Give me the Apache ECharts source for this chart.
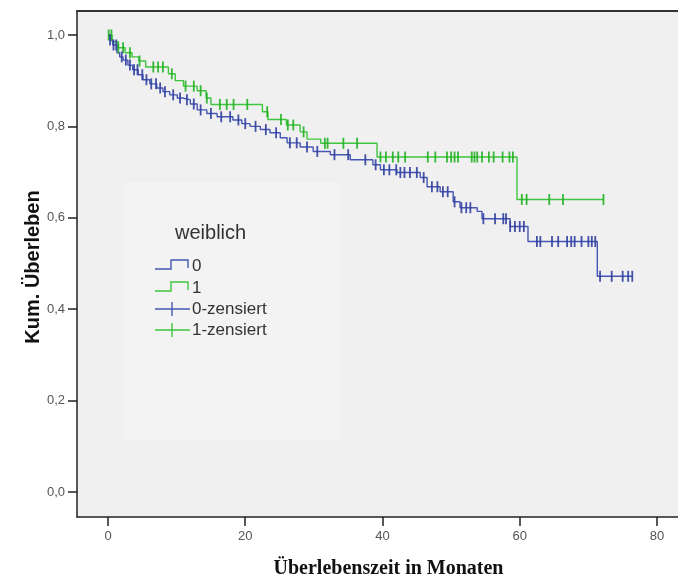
<!DOCTYPE html>
<html>
<head>
<meta charset="utf-8">
<script src="https://cdn.jsdelivr.net/npm/echarts@6/dist/echarts.min.js"></script>
<style>
  html, body { margin: 0; padding: 0; background: #ffffff; }
  #chart { width: 678px; height: 584px; }
</style>
</head>
<body>
<div id="chart"></div>
<script>
// Kaplan-Meier curves by group "weiblich" (0 / 1)
// Step times (months) and cumulative survival after each step
const blueTimes = [0, 0.3, 0.7, 1.3, 1.7, 2.2, 2.9, 3.6, 4.4, 5.1, 6.1, 7.1, 8.0, 9.0, 10.1, 10.9, 12.0, 13.0, 14.4, 15.9, 18.2, 19.5, 20.7, 22.2, 23.6, 25.1, 26.1, 28.0, 29.9, 32.4, 35.3, 38.6, 39.7, 42.1, 45.5, 46.5, 48.4, 50.3, 51.3, 53.8, 54.5, 58.6, 61.2, 71.3];
const blueSurv  = [1.0, 0.989, 0.978, 0.961, 0.952, 0.945, 0.934, 0.924, 0.913, 0.902, 0.893, 0.884, 0.876, 0.869, 0.862, 0.858, 0.849, 0.836, 0.828, 0.821, 0.814, 0.806, 0.800, 0.793, 0.786, 0.775, 0.764, 0.755, 0.745, 0.738, 0.727, 0.716, 0.705, 0.699, 0.688, 0.668, 0.657, 0.635, 0.622, 0.614, 0.598, 0.581, 0.548, 0.472];
const blueEnd = 76.4;

const greenTimes = [0, 0.6, 1.5, 2.5, 3.5, 4.5, 5.5, 8.8, 9.8, 11.0, 13.0, 14.3, 15.0, 22.5, 23.3, 26.0, 28.0, 29.0, 31.0, 39.2, 59.6];
const greenSurv  = [1.0, 0.985, 0.972, 0.961, 0.952, 0.943, 0.930, 0.915, 0.900, 0.888, 0.878, 0.862, 0.848, 0.832, 0.815, 0.803, 0.788, 0.772, 0.763, 0.733, 0.640];
const greenEnd = 72.2;

// Censoring times (months)
const blueCensor = [0.3, 0.8, 1.2, 2.0, 2.6, 3.2, 3.8, 4.3, 5.0, 5.6, 6.3, 7.0, 7.6, 8.3, 9.5, 10.5, 11.5, 12.5, 13.5, 15.0, 16.5, 17.8, 19.0, 20.0, 21.5, 23.0, 24.5, 26.5, 27.5, 29.0, 30.5, 33.0, 35.0, 37.5, 39.0, 40.2, 41.0, 42.0, 42.6, 43.2, 44.0, 45.0, 46.0, 47.2, 48.0, 48.8, 49.5, 50.5, 51.5, 52.2, 52.8, 54.7, 56.4, 57.6, 58.0, 58.6, 59.3, 60.0, 60.6, 62.5, 63.0, 64.7, 65.6, 66.9, 67.5, 68.0, 69.0, 70.0, 70.5, 71.0, 71.7, 73.4, 75.0, 75.8, 76.4];
const greenCensor = [0.1, 0.5, 1.5, 2.2, 3.2, 4.6, 6.6, 7.3, 8.0, 9.3, 11.3, 12.5, 13.5, 14.4, 16.3, 17.3, 18.3, 20.3, 23.2, 25.2, 26.2, 27.0, 28.5, 31.6, 32.0, 34.3, 36.3, 39.7, 40.5, 41.5, 42.3, 43.3, 46.6, 47.7, 49.4, 50.0, 50.5, 51.0, 53.0, 53.4, 53.8, 54.5, 55.5, 56.2, 57.5, 58.5, 59.0, 60.3, 61.0, 64.3, 66.3, 72.2];

// Axis tick values
const xTicks = [0, 20, 40, 60, 80];
const yTicks = [0, 0.2, 0.4, 0.6, 0.8, 1.0];

const groupLabels = ['0', '1', '0-zensiert', '1-zensiert'];
const legendTitle = 'weiblich';
const yTitle = 'Kum. Überleben';
const xTitle = 'Überlebenszeit in Monaten';

const BLUE = '#4656b4';
const BLUE_MARK = '#2f3f9e';
const GREEN = '#3ec53e';
const GREEN_MARK = '#22b022';
const SANS = '"Liberation Sans", Arial, sans-serif';

function stepData(times, surv, end) {
  const d = times.map((t, i) => [t, surv[i]]);
  d.push([end, surv[surv.length - 1]]);
  return d;
}
function survivalAt(times, surv, t) {
  let s = surv[0];
  for (let i = 0; i < times.length; i++) {
    if (times[i] <= t) s = surv[i]; else break;
  }
  return s;
}
function censorData(censor, times, surv) {
  return censor.map(t => [t, survivalAt(times, surv, t)]);
}

const chart = echarts.init(document.getElementById('chart'), null, { renderer: 'canvas' });
const fmt = v => v.toFixed(1).replace('.', ',');

// legend drawn as graphic elements
function stepIcon(y, color) {
  return { type: 'polyline', shape: { points: [[155, y + 4], [171, y + 4], [171, y - 5], [188, y - 5], [188, y + 3]] }, style: { stroke: color, lineWidth: 1.4, fill: null } };
}
function crossIcon(y, color) {
  return [
    { type: 'line', shape: { x1: 155, y1: y, x2: 190, y2: y }, style: { stroke: color, lineWidth: 1.4 } },
    { type: 'line', shape: { x1: 172, y1: y - 7, x2: 172, y2: y + 7 }, style: { stroke: color, lineWidth: 1.4 } }
  ];
}
function legendText(y, text) {
  return { type: 'text', x: 192, y: y, style: { text: text, font: '17px ' + SANS, fill: '#333', verticalAlign: 'middle' } };
}
const graphics = [
  { type: 'rect', shape: { x: 124, y: 182, width: 216, height: 258 }, style: { fill: '#f3f3f3' }, z: 0, silent: true },
  { type: 'text', x: 175, y: 233, style: { text: legendTitle, font: '20px ' + SANS, fill: '#333', verticalAlign: 'middle' } },
  stepIcon(265, BLUE), legendText(266, groupLabels[0]),
  stepIcon(287, GREEN), legendText(288, groupLabels[1]),
  ...crossIcon(309, BLUE), legendText(309, groupLabels[2]),
  ...crossIcon(330, GREEN), legendText(330, groupLabels[3]),
  // vertical axis title
  { type: 'text', x: 33, y: 267, rotation: Math.PI / 2,
    style: { text: yTitle, font: 'bold 20px ' + SANS, fill: '#111', align: 'center', verticalAlign: 'middle' } }
];

chart.setOption({
  animation: false,
  backgroundColor: '#ffffff',
  grid: { left: 77, right: 0, top: 11, bottom: 66, show: true, backgroundColor: '#f0f0f0', borderWidth: 0 },
  graphic: graphics,
  xAxis: [{
    type: 'value',
    min: -4.517, max: 83.06,
    position: 'bottom',
    name: xTitle,
    nameLocation: 'middle',
    nameGap: 42,
    nameTextStyle: { fontFamily: '"Liberation Serif", "Times New Roman", serif', fontWeight: 'bold', fontSize: 20, color: '#111', padding: [0, 0, 0, 22] },
    axisLine: { show: true, onZero: false, lineStyle: { color: '#222', width: 1.5 } },
    axisTick: { show: true, length: 9, customValues: xTicks, lineStyle: { color: '#222', width: 1.5 } },
    axisLabel: { customValues: xTicks, margin: 13, color: '#555', fontSize: 13, fontFamily: SANS },
    splitLine: { show: false }
  }, {
    type: 'value',
    min: -4.517, max: 83.06,
    position: 'top',
    axisLine: { show: true, onZero: false, lineStyle: { color: '#333', width: 2 } },
    axisTick: { show: false },
    axisLabel: { show: false },
    splitLine: { show: false }
  }],
  yAxis: {
    type: 'value',
    min: -0.0546, max: 1.0524,
    axisLine: { show: true, onZero: false, lineStyle: { color: '#222', width: 1.5 } },
    axisTick: { show: true, length: 9, customValues: yTicks, lineStyle: { color: '#222', width: 1.5 } },
    axisLabel: { customValues: yTicks, margin: 12, color: '#555', fontSize: 13, fontFamily: SANS, formatter: fmt },
    splitLine: { show: false }
  },
  series: [
    {
      name: groupLabels[0], type: 'line', step: 'end', showSymbol: false,
      data: stepData(blueTimes, blueSurv, blueEnd),
      lineStyle: { color: BLUE, width: 1.4 }, z: 3
    },
    {
      name: groupLabels[1], type: 'line', step: 'end', showSymbol: false,
      data: stepData(greenTimes, greenSurv, greenEnd),
      lineStyle: { color: GREEN, width: 1.4 }, z: 2
    },
    {
      name: groupLabels[2], type: 'scatter',
      data: censorData(blueCensor, blueTimes, blueSurv),
      symbol: 'rect', symbolSize: [1.8, 11],
      itemStyle: { color: BLUE_MARK, opacity: 0.9 }, z: 4
    },
    {
      name: groupLabels[3], type: 'scatter',
      data: censorData(greenCensor, greenTimes, greenSurv),
      symbol: 'rect', symbolSize: [1.8, 11],
      itemStyle: { color: GREEN_MARK, opacity: 0.9 }, z: 3
    }
  ]
});
</script>
</body>
</html>
